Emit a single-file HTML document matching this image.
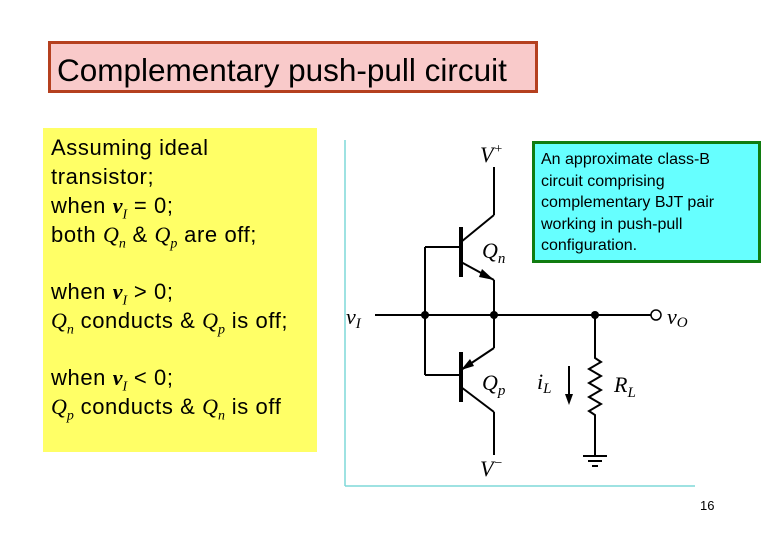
<!DOCTYPE html>
<html><head><meta charset="utf-8"><style>
body{margin:0;background:#fff;width:780px;height:540px;position:relative;overflow:hidden;font-family:"Liberation Sans",sans-serif}
.t{position:absolute;left:48px;top:41px;background:#f9caca;border:3px solid #b5401f;font-size:31.5px;line-height:52px;padding-left:6px;box-sizing:border-box;width:490px;height:52px;white-space:nowrap}
.y{position:absolute;left:43px;top:128px;width:274px;height:324px;background:#ffff66}
.y p{margin:0;position:absolute;left:8px;font-size:22px;line-height:29px;color:#000;letter-spacing:0.6px;white-space:nowrap}
.c{position:absolute;left:532px;top:141px;background:#66ffff;border:3px solid #107c10;font-size:16px;line-height:21.5px;padding:5px 0 0 6px;box-sizing:border-box;width:229px;height:122px;white-space:nowrap}
i.m{font-family:"Liberation Serif",serif;letter-spacing:0}
sub{font-size:14px;line-height:0}
</style></head><body>
<div class="t">Complementary push-pull circuit</div>
<div class="y">
<p style="top:5px">Assuming ideal<br>transistor;<br>when <i class="m"><b>v</b><sub>I</sub></i> = 0;<br>both <i class="m">Q<sub>n</sub></i> &amp; <i class="m">Q<sub>p</sub></i> are off;</p>
<p style="top:149px">when <i class="m"><b>v</b><sub>I</sub></i> &gt; 0;<br><i class="m">Q<sub>n</sub></i> conducts &amp; <i class="m">Q<sub>p</sub></i> is off;</p>
<p style="top:235px">when <i class="m"><b>v</b><sub>I</sub></i> &lt; 0;<br><i class="m">Q<sub>p</sub></i> conducts &amp; <i class="m">Q<sub>n</sub></i> is off</p>
</div>
<svg width="780" height="540" style="position:absolute;left:0;top:0">
<g stroke="#7fd8d8" stroke-width="1.5"><line x1="345" y1="140" x2="345" y2="486"/><line x1="345" y1="486" x2="695" y2="486"/></g>
<g stroke="#000" stroke-width="2" fill="none">
<line x1="494" y1="167" x2="494" y2="215"/><line x1="461" y1="242" x2="494" y2="215"/>
<line x1="461" y1="262" x2="494" y2="280"/><line x1="494" y1="280" x2="494" y2="348"/>
<line x1="494" y1="348" x2="461" y2="370"/><line x1="461" y1="387" x2="494" y2="412"/><line x1="494" y1="412" x2="494" y2="455"/>
<line x1="425" y1="247" x2="461" y2="247"/><line x1="425" y1="247" x2="425" y2="375"/><line x1="425" y1="375" x2="461" y2="375"/>
<line x1="375" y1="315" x2="651" y2="315"/>
<polyline points="595,315 595,358 601,362 589,369 601,376 589,383 601,390 589,397 601,404 589,411 595,415 595,455"/>
<line x1="583" y1="456" x2="607" y2="456"/><line x1="588" y1="461" x2="602" y2="461"/><line x1="592" y1="466" x2="598" y2="466"/>
<line x1="569" y1="366" x2="569" y2="398"/>
<circle cx="656" cy="315" r="5" stroke-width="1.5"/>
</g>
<g stroke="#000" stroke-width="4"><line x1="461" y1="227" x2="461" y2="277"/><line x1="461" y1="352" x2="461" y2="402"/></g>
<g fill="#000"><circle cx="425" cy="315" r="4"/><circle cx="494" cy="315" r="4"/><circle cx="595" cy="315" r="4"/>
<polygon points="494,280 482,269 479,277"/><polygon points="461,370 470,359 474,366"/><polygon points="569,405 565,394 573,394"/></g>
<g font-family="Liberation Serif,serif" font-style="italic" font-size="22">
<text x="480" y="162">V<tspan font-size="14" dy="-9">+</tspan></text>
<text x="482" y="258">Q<tspan font-size="15" dy="5">n</tspan></text>
<text x="482" y="390">Q<tspan font-size="15" dy="5">p</tspan></text>
<text x="346" y="324">v<tspan font-size="15" dy="4">I</tspan></text>
<text x="667" y="324">v<tspan font-size="15" dy="3">O</tspan></text>
<text x="537" y="389">i<tspan font-size="15" dy="4">L</tspan></text>
<text x="614" y="392">R<tspan font-size="15" dy="5">L</tspan></text>
<text x="480" y="476">V<tspan font-size="14" dy="-9">−</tspan></text>
</g>
<text x="700" y="510" font-size="13" font-family="Liberation Sans,sans-serif">16</text>
</svg>
<div class="c">An approximate class-B<br>circuit comprising<br>complementary BJT pair<br>working in push-pull<br>configuration.</div>
</body></html>
